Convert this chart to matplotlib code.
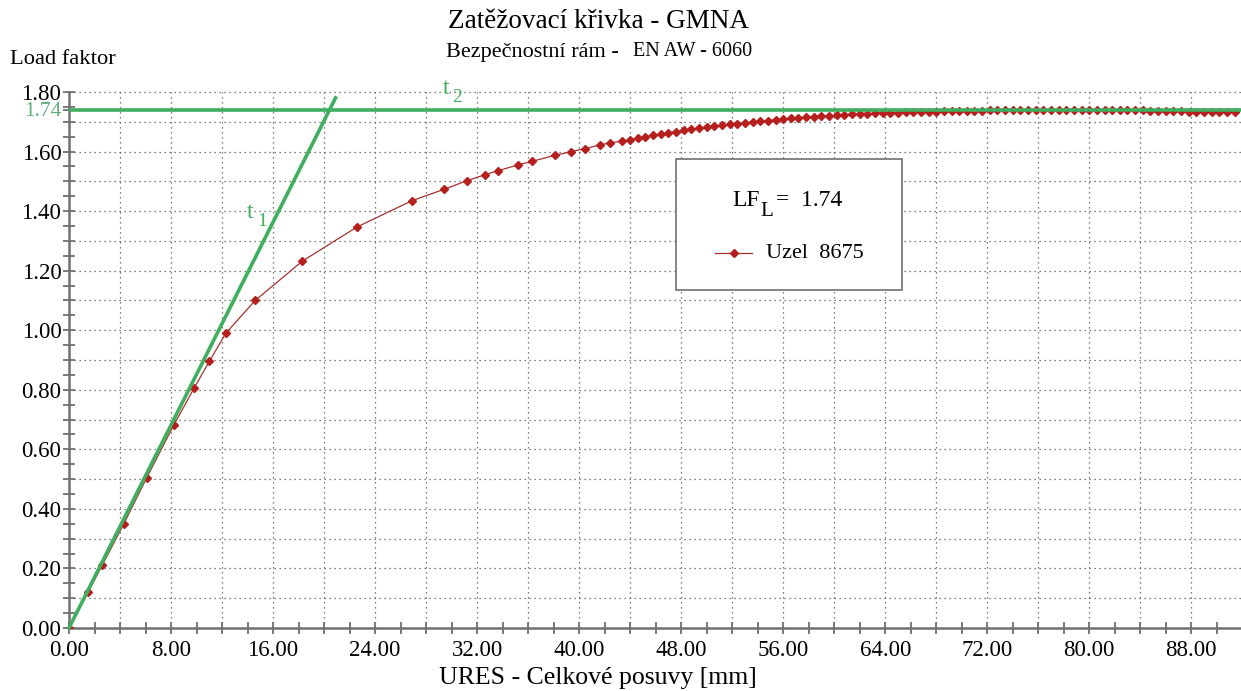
import matplotlib
matplotlib.use('Agg')
import matplotlib.pyplot as plt
import numpy as np
from matplotlib.lines import Line2D
from matplotlib.patches import Rectangle

plt.rcParams['font.family'] = ['Liberation Serif', 'DejaVu Serif']

# load curve of node 8675
ures = [0.0, 1.5, 2.6, 4.3, 6.1, 8.2, 9.8, 11.0, 12.3, 14.6, 18.3, 22.6, 26.9,
        29.4, 31.2, 32.6, 33.6, 35.2, 36.3, 38.1, 39.4, 40.5, 41.6, 42.4, 43.4,
        44.0, 44.6, 45.2, 45.8, 46.4, 47.0, 47.6, 48.2, 48.8, 49.4, 50.0, 50.6,
        51.2, 51.8, 52.4, 53.0, 53.6, 54.2, 54.8, 55.4, 56.0, 56.6, 57.2, 57.8,
        58.4, 59.0, 59.6, 60.2, 60.8, 61.4, 62.0, 62.6, 63.2, 63.8, 64.4, 65.0,
        65.6, 66.2, 66.8, 67.4, 68.0, 68.6, 69.2, 69.8, 70.4, 71.0, 71.6, 72.2,
        72.8, 73.4, 74.0, 74.6, 75.2, 75.8, 76.4, 77.0, 77.6, 78.2, 78.8, 79.4,
        80.0, 80.6, 81.2, 81.8, 82.4, 83.0, 83.6, 84.2, 84.8, 85.4, 86.0, 86.6,
        87.2, 87.8, 88.4, 89.0, 89.6, 90.2, 90.8, 91.4]
load = [0.0, 0.12, 0.21, 0.35, 0.505, 0.68, 0.805, 0.895, 0.99, 1.10, 1.232,
        1.347, 1.435, 1.473, 1.502, 1.522, 1.535, 1.555, 1.567, 1.587, 1.600,
        1.610, 1.622, 1.629, 1.635, 1.640, 1.645, 1.650, 1.655, 1.659, 1.663,
        1.667, 1.671, 1.675, 1.678, 1.682, 1.685, 1.688, 1.691, 1.694, 1.697,
        1.699, 1.702, 1.704, 1.707, 1.709, 1.711, 1.713, 1.715, 1.717, 1.719,
        1.720, 1.722, 1.723, 1.725, 1.726, 1.727, 1.728, 1.729, 1.730, 1.731,
        1.732, 1.733, 1.733, 1.734, 1.734, 1.735, 1.735, 1.736, 1.736, 1.737,
        1.737, 1.740, 1.740, 1.740, 1.740, 1.740, 1.740, 1.740, 1.740, 1.740,
        1.740, 1.740, 1.740, 1.740, 1.740, 1.740, 1.740, 1.740, 1.740, 1.740,
        1.740, 1.740, 1.736, 1.736, 1.735, 1.735, 1.735, 1.734, 1.734, 1.734,
        1.733, 1.733, 1.733, 1.732]

# tangents
t1_x = [0.0, 20.9]
t1_y = [0.0, 1.78]
lf_limit = 1.74

green = '#3fae5f'
red = '#b5201f'
gray = '#707070'
W, H = 1241.0, 691.0


def fx(px):
    return px / W


def fy(py):
    return 1 - py / H


fig = plt.figure(figsize=(12.41, 6.91), dpi=100)
ax = fig.add_axes([0.0556, 0.0912, 0.9444, 0.7757])
ax.set_xlim(0, 91.9)
ax.set_ylim(0, 1.80)

# dotted grid
for xv in np.arange(4, 92, 4):
    ax.axvline(xv, color='#555555', lw=0.9, ls=(0, (1, 3)), zorder=1)
for yv in np.arange(0.1, 1.81, 0.1):
    ax.axhline(yv, color='#555555', lw=0.9, ls=(0, (1, 3)), zorder=1, clip_on=False)

ax.plot(ures, load, color='#a83030', lw=0.9, marker='D', ms=4.2,
        mfc=red, mec=red, zorder=3)
ax.plot(t1_x, t1_y, color=green, lw=2.6, zorder=4, clip_on=False)
ax.axhline(lf_limit, color=green, lw=2.6, zorder=4)

# tangent labels
fig.text(fx(250), fy(213), 't', color=green, fontsize=17, ha='center', va='center')
fig.text(fx(262), fy(221), '1', color=green, fontsize=14, ha='center', va='center')
fig.text(fx(446), fy(88), 't', color=green, fontsize=17, ha='center', va='center')
fig.text(fx(457), fy(97), '2', color=green, fontsize=14, ha='center', va='center')

for s in ['top', 'right']:
    ax.spines[s].set_visible(False)
for s in ['left', 'bottom']:
    ax.spines[s].set_color(gray)
    ax.spines[s].set_linewidth(1.8)

yt = list(np.round(np.arange(0, 1.81, 0.2), 2)) + [lf_limit]
ax.set_yticks(yt)
ax.set_yticks(np.arange(0, 1.81, 0.05), minor=True)
ax.yaxis.set_major_formatter(matplotlib.ticker.FuncFormatter(
    lambda v, p: '' if abs(v - lf_limit) < 1e-6 else '%.2f' % v))
ax.set_xticks(np.arange(0, 89, 8))
ax.set_xticks(np.arange(0, 92, 2), minor=True)
ax.xaxis.set_major_formatter(matplotlib.ticker.FormatStrFormatter('%.2f'))
ax.tick_params(which='both', direction='inout', length=9, width=1.3, color=gray,
               labelsize=16.5)
ax.tick_params(axis='x', pad=4)
ax.tick_params(axis='y', pad=1)
# green limit value at the axis
fig.text(fx(62), fy(112), '%.2f' % lf_limit, color='#5fae78', fontsize=15.5,
         ha='right', va='center')

# legend box
ax.add_patch(Rectangle((0.518, 0.631), 0.193, 0.244, transform=ax.transAxes,
                       fc='white', ec=gray, lw=1.2, zorder=5))
fig.text(fx(732), fy(200), 'LF', fontsize=17, ha='left', va='center', zorder=6)
fig.text(fx(760), fy(211), 'L', fontsize=15, ha='left', va='center', zorder=6)
fig.text(fx(776), fy(200), '=  1.74', fontsize=17, ha='left', va='center', zorder=6)
ax.add_line(Line2D([0.551, 0.583], [0.700, 0.700], transform=ax.transAxes,
                   color='#a83030', lw=0.9, zorder=6))
ax.add_line(Line2D([0.567], [0.700], transform=ax.transAxes, marker='D', ms=4.2,
                   mfc=red, mec=red, zorder=6))
fig.text(fx(766), fy(253), 'Uzel  8675', fontsize=16, ha='left', va='center',
         zorder=6)

fig.text(fx(598), fy(22), 'Zatěžovací křivka - GMNA', fontsize=19.5,
         ha='center', va='center')
fig.text(fx(624), fy(52), 'Bezpečnostní rám - ', fontsize=16, ha='right',
         va='center')
fig.text(fx(633), fy(52), 'EN AW - 6060', fontsize=14.5, ha='left', va='center')
fig.text(fx(10), fy(60), 'Load faktor', fontsize=16.2, ha='left', va='center')
fig.text(fx(598), fy(678), 'URES - Celkové posuvy [mm]', fontsize=18.5,
         ha='center', va='center')

fig.savefig('out.png', dpi=100)
